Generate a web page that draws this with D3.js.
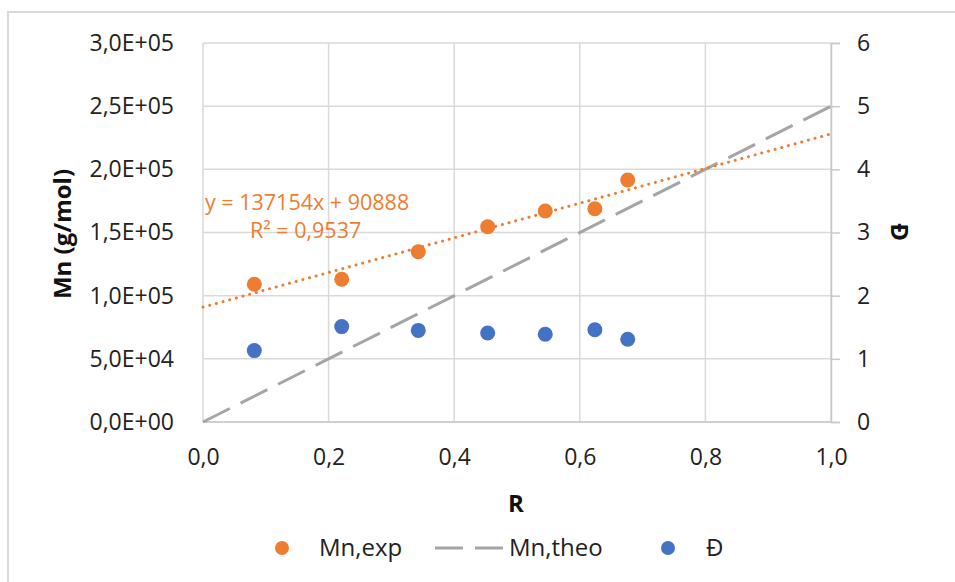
<!DOCTYPE html>
<html>
<head>
<meta charset="utf-8">
<script src="https://cdn.jsdelivr.net/npm/d3@7"></script>
<style>
  html, body { margin: 0; padding: 0; background: #fff; }
  svg { display: block; font-family: "Open Sans", "Noto Sans", sans-serif; }
</style>
</head>
<body>
<svg id="chart" width="955" height="582"></svg>
<script>
// ---- data ----
const ratioR = [0.0817, 0.2209, 0.3428, 0.4533, 0.545, 0.624, 0.6763];
const mnExp = [109000, 113000, 134800, 154600, 167000, 168800, 191500];
const dispersity = [1.13, 1.51, 1.45, 1.41, 1.39, 1.46, 1.31];
const theoR = [0, 1];
const mnTheo = [0, 250000];
const trendCoef = [137154, 90888]; // slope, intercept
const trendLabel = ["y = 137154x + 90888", "R² = 0,9537"];
const xTicks = [0, 0.2, 0.4, 0.6, 0.8, 1.0];
const yLeftTicks = [0, 50000, 100000, 150000, 200000, 250000, 300000];
const yRightTicks = [0, 1, 2, 3, 4, 5, 6];
const legendLabels = ["Mn,exp", "Mn,theo", "Đ"];

const orange = "#ED7D31", blue = "#4472C4", gray = "#A5A5A5", grid = "#D9D9D9", txt = "#222";
const svg = d3.select("#chart");
const L = 203, R = 831, T = 43, B = 422;

const x = d3.scaleLinear().domain([0, 1]).range([L, R]);
const yL = d3.scaleLinear().domain([0, 300000]).range([B, T]);
const yR = d3.scaleLinear().domain([0, 6]).range([B, T]);

const fmtX = d => d3.format(".1f")(d).replace(".", ",");
const fmtY = d => {
  const e = d === 0 ? 0 : Math.floor(Math.log10(d));
  const m = d === 0 ? 0 : d / Math.pow(10, e);
  return m.toFixed(1).replace(".", ",") + "E+" + String(e).padStart(2, "0");
};

// chart frame
svg.append("rect").attr("x", 8).attr("y", 12).attr("width", 1000).attr("height", 700)
  .attr("fill", "none").attr("stroke", grid).attr("stroke-width", 2);

// gridlines
svg.append("g").selectAll("line").data(yLeftTicks).join("line")
  .attr("x1", L).attr("x2", R).attr("y1", d => yL(d)).attr("y2", d => yL(d))
  .attr("stroke", grid).attr("stroke-width", 1.5);
svg.append("g").selectAll("line").data(xTicks).join("line")
  .attr("x1", d => x(d)).attr("x2", d => x(d)).attr("y1", T).attr("y2", B)
  .attr("stroke", grid).attr("stroke-width", 1.5);

// bottom axis line
svg.append("line").attr("x1", L).attr("x2", R).attr("y1", B).attr("y2", B)
  .attr("stroke", "#C8C8C8").attr("stroke-width", 1.5);

// right axis
const rAxis = svg.append("g").attr("transform", `translate(${R},0)`)
  .call(d3.axisRight(yR).tickValues(yRightTicks).tickSize(9).tickPadding(17).tickFormat(d3.format("d")));
rAxis.select(".domain").attr("stroke", "#C8C8C8").attr("stroke-width", 1.5);
rAxis.selectAll(".tick line").attr("stroke", "#C8C8C8").attr("stroke-width", 1.5);
rAxis.selectAll("text").attr("fill", txt).style("font-size", "23px").style("font-family", "Open Sans");

// left axis labels
const lAxis = svg.append("g").attr("transform", `translate(${L},0)`)
  .call(d3.axisLeft(yL).tickValues(yLeftTicks).tickSize(0).tickPadding(29).tickFormat(fmtY));
lAxis.select(".domain").remove();
lAxis.selectAll("text").attr("fill", txt).style("font-size", "23px").style("font-family", "Open Sans");

// bottom axis labels
const bAxis = svg.append("g").attr("transform", `translate(0,${B})`)
  .call(d3.axisBottom(x).tickValues(xTicks).tickSize(0).tickPadding(27).tickFormat(fmtX));
bAxis.select(".domain").remove();
bAxis.selectAll("text").attr("fill", txt).style("font-size", "23px").style("font-family", "Open Sans");

// axis titles
svg.append("text").attr("transform", "translate(71,234) rotate(-90)")
  .attr("text-anchor", "middle").attr("font-weight", "bold").attr("font-size", 24)
  .attr("fill", "#111").text("Mn (g/mol)");
svg.append("text").attr("x", 516).attr("y", 512)
  .attr("text-anchor", "middle").attr("font-weight", "bold").attr("font-size", 24)
  .attr("fill", "#111").text("R");
svg.append("text").attr("transform", "translate(891,232) rotate(90)")
  .attr("text-anchor", "middle").attr("font-weight", "bold").attr("font-size", 24)
  .attr("fill", "#111").text("Đ");

// theoretical line
const lineTheo = d3.line().x(d => x(d[0])).y(d => yL(d[1]));
svg.append("path").datum(d3.zip(theoR, mnTheo)).attr("d", lineTheo)
  .attr("fill", "none").attr("stroke", gray).attr("stroke-width", 3)
  .attr("stroke-dasharray", "30,12");

// trendline
const trendPts = x.domain().map(r => [r, trendCoef[0] * r + trendCoef[1]]);
svg.append("path").datum(trendPts).attr("d", lineTheo)
  .attr("fill", "none").attr("stroke", orange).attr("stroke-width", 3)
  .attr("stroke-linecap", "round").attr("stroke-dasharray", "0.1,6.8");

// points
svg.append("g").selectAll("circle").data(d3.zip(ratioR, mnExp)).join("circle")
  .attr("cx", d => x(d[0])).attr("cy", d => yL(d[1])).attr("r", 7.5).attr("fill", orange);
svg.append("g").selectAll("circle").data(d3.zip(ratioR, dispersity)).join("circle")
  .attr("cx", d => x(d[0])).attr("cy", d => yR(d[1])).attr("r", 7.5).attr("fill", blue);

// trendline label
svg.append("text").attr("x", 205).attr("y", 210).attr("fill", orange)
  .attr("font-size", 21.5).text(trendLabel[0]);
svg.append("text").attr("x", 250).attr("y", 238).attr("fill", orange)
  .attr("font-size", 21.5).text(trendLabel[1]);

// legend
const lg = svg.append("g").attr("font-size", 24).attr("fill", txt);
lg.append("circle").attr("cx", 282).attr("cy", 548).attr("r", 7).attr("fill", orange);
lg.append("text").attr("x", 319).attr("y", 556).text(legendLabels[0]);
lg.append("line").attr("x1", 435).attr("x2", 503).attr("y1", 548).attr("y2", 548)
  .attr("stroke", gray).attr("stroke-width", 3).attr("stroke-dasharray", "28,12");
lg.append("text").attr("x", 509).attr("y", 556).text(legendLabels[1]);
lg.append("circle").attr("cx", 668).attr("cy", 548).attr("r", 7).attr("fill", blue);
lg.append("text").attr("x", 706).attr("y", 556).text(legendLabels[2]);
</script>
</body>
</html>
